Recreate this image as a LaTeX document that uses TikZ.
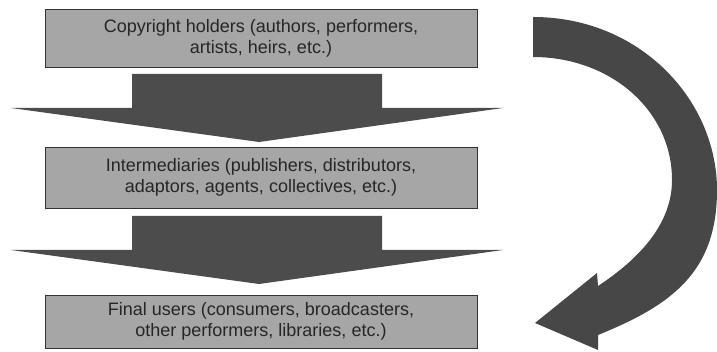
\documentclass[tikz,border=0pt]{standalone}
\usepackage{fontspec}
\setmainfont{Liberation Sans}
\usetikzlibrary{calc}

\begin{document}
\begin{tikzpicture}[
    x=1pt, y=-1pt,
    party/.style={rectangle, draw=black!80, fill=black!35, text=black!85, minimum width=432pt, align=center, inner sep=0pt, font=\fontsize{18}{21}\selectfont},
    flow/.style={fill=black!70, draw=none},
    turnarrow/.style={fill=black!72, draw=none}
]
\useasboundingbox (0,0) rectangle (717,352);

% boxes
\node[party, minimum height=58pt] (holders) at (261,38) {Copyright holders (authors, performers,\\artists, heirs, etc.)};
\node[party, minimum height=61pt] (inter) at (261,177.5) {Intermediaries (publishers, distributors,\\adaptors, agents, collectives, etc.)};
\node[party, minimum height=53pt] (users) at (261,321.5) {Final users (consumers, broadcasters,\\other performers, libraries, etc.)};

% down arrows
\foreach \dy in {0, 142} {
    \fill[flow] (132,74+\dy) -- (382,74+\dy) -- (382,108+\dy) -- (503,108+\dy)
        -- (259,142+\dy) -- (11,108+\dy) -- (132,108+\dy) -- cycle;
}

% curved arrow
\coordinate (tailtop) at (533,17);
\coordinate (tailbot) at (533,57);
\coordinate (tip) at (535,323);
\fill[turnarrow] (tailtop) .. controls (640,17) and (717,100) .. (717,190)
    .. controls (717,272) and (672,305) .. (598,335)
    -- (598,350) -- (tip) -- (597,273) -- (598,286)
    .. controls (645,255) and (672,220) .. (672,180)
    .. controls (672,110) and (610,57) .. (tailbot) -- cycle;

\end{tikzpicture}
\end{document}
